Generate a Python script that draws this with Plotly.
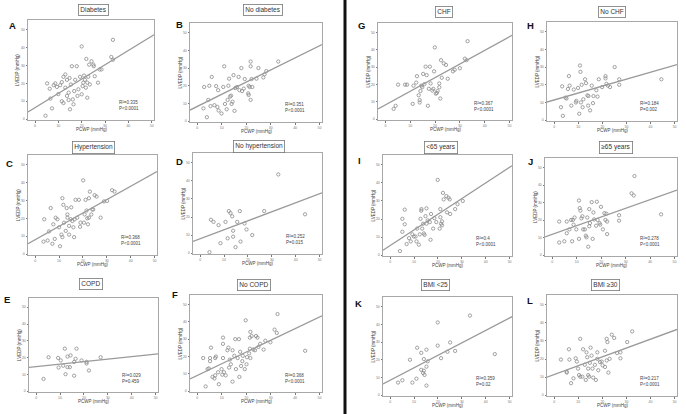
import plotly.graph_objects as go

W, H = 686, 414

LETTERS = ["A", "B", "C", "D", "E", "F", "G", "H", "I", "J", "K", "L"]
TITLES = ["Diabetes", "No diabetes", "Hypertension", "No hypertension", "COPD", "No COPD",
          "CHF", "No CHF", "&lt;65 years", "≥65 years", "BMI &lt;25", "BMI ≥30"]
R2_LABELS = ["0.335", "0.351", "0.368", "0.252", "0.029", "0.368",
             "0.367", "0.184", "0.4", "0.278", "0.359", "0.217"]
P_LABELS = ["P&lt;0.0001", "P&lt;0.0001", "P&lt;0.0001", "P=0.015", "P=0.459", "P&lt;0.0001",
            "P&lt;0.0001", "P=0.002", "P&lt;0.0001", "P&lt;0.0001", "P=0.02", "P&lt;0.0001"]
SLOPES = [0.80, 0.687, 0.748, 0.50, 0.149, 0.674, 0.788, 0.393, 0.868, 0.496, 0.705, 0.49]
INTERCEPTS = [6.4, 8.3, 8.1, 7.95, 14.66, 9.1, 8.2, 11.4, 5.3, 11.9, 8.4, 11.4]
TICKS = [0, 10, 20, 30, 40, 50]
X_TITLE = "PCWP (mmHg)"
Y_TITLE = "LVEDP (mmHg)"

A_PTS = [(4.5,1.9),(5.2,20),(6.3,17),(6.6,11.5),(7.3,6),(8.0,19),(8.7,20),(9.4,18),(10.0,14),(10.8,19),
         (11.5,10),(11.5,20.7),(12.2,23.7),(12.2,9),(13.0,25),(13.0,17.6),(13.7,22),(13.7,13),(14.4,14.8),
         (14.4,10.7),(14.8,23),(15.0,5.5),(15.4,19.4),(15.8,29.6),(16.2,11),(16.5,8.3),(16.8,15.7),(17.2,22),
         (17.9,29.6),(18.2,13),(18.6,16.7),(19.3,23.7),(20.0,40.7),(20.0,13.9),(20.4,18.5),(20.7,20.4),
         (21.0,24.4),(21.4,22),(21.8,17.6),(22.0,33.7),(22.4,12),(22.4,20.4),(22.8,23.7),(23.2,30.5),
         (23.5,19.4),(24.2,32.4),(25.0,30.5),(25.2,29.6),(25.6,24),(27.0,20.4),(27.7,27.8),(28.5,27.8),
         (32.7,34.8),(33.4,33.3),(33.4,44.4)]
B_PTS = [(2.5,7.2),(2.8,19.3),(3.9,2.2),(4.5,12),(4.9,20),(5.4,8.5),(5.9,25),(7.0,9),(7.7,19.8),(8.2,8),
         (8.5,17.5),(8.7,6),(9.9,4.3),(10.6,19.3),(11.0,31),(11.3,9.7),(12.0,6.7),(12.4,12),(12.7,20),
         (13.0,24),(13.4,13.9),(13.8,14.4),(14.0,9.7),(14.4,11),(14.8,26),(15.2,5.8),(15.5,18.7),(16.2,19.3),
         (16.9,25),(17.2,17.5),(18.0,30),(18.3,17),(19.0,18.4),(19.4,23.8),(20.8,15.7),(21.0,14.8),(21.0,20),
         (21.4,19.3),(21.8,33.7),(21.8,31),(21.8,12),(22.2,23.8),(22.5,19.3),(24.2,24),(25.0,30),(27.0,24.7),
         (27.5,26.5),(28.2,28.3),(33.1,33.7)]
C_PTS = [(3.5,7),(3.8,19.5),(5.2,7.6),(5.8,12.7),(6.5,25.8),(7.2,5.8),(7.6,16.7),(8.2,8.5),(8.6,20.4),
         (9.3,19.5),(10.0,15),(10.4,4.4),(11.0,10.9),(11.4,31.3),(11.4,9.5),(11.8,27.6),(12.1,17.6),(12.8,13),
         (13.2,25.8),(13.5,22.2),(13.5,20.4),(14.2,15.8),(14.2,10.9),(14.9,19.5),(15.1,26.2),(15.6,18.5),
         (16.0,15),(16.3,9.5),(16.5,19.5),(16.9,30.4),(17.6,20.4),(18.3,30.4),(18.8,15.3),(19.0,17.6),
         (20.1,41.3),(20.4,17.6),(20.7,22.2),(21.1,30.4),(21.5,24.4),(21.8,20),(22.1,16.7),(22.5,31.3),
         (22.5,20.4),(22.9,35),(23.5,22.2),(23.9,25),(24.3,25),(24.9,33),(25.7,32.2),(27.4,20.4),(28.8,29.5),
         (30.1,29.8),(32.2,35.8),(33.2,35)]
D_PTS = [(3.9,0.5),(4.5,18.5),(5.6,17.3),(7.7,15.5),(8.5,5.5),(10.6,17.3),(11.5,8.2),(12.0,23.3),(12.7,22.2),
         (13.4,20.4),(13.8,12.4),(13.8,9.1),(14.8,3.3),(15.5,17.3),(16.6,23.3),(16.9,6.4),(18.6,16.4),
         (19.4,13.1),(21.8,10),(26.8,23.3),(32.7,43.6),(43.9,21.5)]
E_PTS = [(3.1,7.3),(5.2,20.2),(9.2,19.8),(9.4,14.1),(10.3,18.3),(11.3,15.2),(12.0,25.3),(12.3,10.1),
         (13.1,20.6),(13.1,14.3),(14.1,14.3),(14.4,21.3),(15.9,17.4),(15.9,9.2),(16.5,19.3),(16.9,25.3),
         (19.0,18.3),(21.1,16.5),(21.1,17.4),(22.1,12.3),(27.0,20.2)]
F_PTS = [(2.4,19.1),(3.4,2.7),(4.2,12.7),(4.7,13.1),(5.2,19.1),(5.2,17.3),(5.6,25.1),(6.2,8.2),(7.0,7.3),
         (7.3,9.1),(7.3,19.1),(7.6,20),(8.5,10.9),(8.8,4),(9.9,12.7),(10.2,9.5),(10.5,19.1),(10.5,30.9),
         (10.5,27.3),(10.9,10.9),(11.6,9.1),(12.3,23.6),(12.7,25.1),(13.0,13.6),(13.3,18.2),(13.7,15.5),
         (14.4,23.6),(14.4,5.5),(15.1,20.4),(15.5,30),(15.8,12.7),(16.5,19.1),(17.0,30),(17.2,8.2),(17.5,22.7),
         (17.9,14.5),(18.4,17.3),(18.6,20.4),(19.4,12.7),(19.8,40.9),(20.1,15.5),(20.3,19.6),(21.2,21.8),
         (21.5,30.9),(21.5,24.5),(21.7,34.2),(21.7,19.1),(22.2,31.8),(22.9,24),(23.6,23.6),(24.0,31.8),
         (24.6,30.9),(25.0,25.5),(25.7,27.3),(27.1,24),(27.8,29.1),(29.9,28.2),(31.6,35.5),(32.5,33.6),
         (32.8,44.5),(44.1,23.3)]
G_PTS = [(3.3,5.9),(4.1,7.7),(5.1,19.9),(7.9,19.9),(8.7,19.9),(11.0,8.8),(11.3,19.3),(12.4,21.1),(12.7,24.8),
         (13.4,13.8),(13.8,11),(13.8,9.6),(14.1,16.2),(14.4,19.3),(14.8,18.4),(15.2,26.1),(15.7,20.2),
         (16.2,30.3),(16.6,25.4),(17.1,7.7),(17.5,17.5),(17.9,30.3),(18.2,20.6),(18.9,16.5),(19.3,17.5),
         (19.6,27.6),(19.9,41.4),(20.3,14.7),(20.7,15.1),(21.0,16.2),(21.7,20.6),(21.7,18.4),(22.1,11.9),
         (22.4,34),(22.7,23.9),(23.5,32.2),(24.4,31.3),(25.1,23.3),(27.2,27.6),(27.9,28.5),(30.0,29.4),
         (32.0,34.9),(32.7,34),(33.1,45)]
H_PTS = [(2.8,7.3),(3.6,2.4),(3.3,19.1),(4.7,12.7),(5.1,12.2),(5.7,17.6),(6.1,24.9),(6.4,19.5),(7.1,8.2),
         (8.1,17.3),(9.0,10),(9.2,10.9),(9.9,18.2),(10.4,3.6),(10.7,30.9),(10.9,27.3),(11.1,10),(11.4,20),
         (11.8,7.3),(12.1,11.8),(12.8,23.1),(13.2,20.9),(13.8,14),(14.1,8.2),(14.2,13.6),(14.9,5.5),(15.6,19.5),
         (16.1,9.6),(16.3,13.6),(17.5,16.9),(18.0,13.3),(18.5,23.1),(19.9,18.7),(21.3,24.9),(21.3,23.6),
         (21.7,20.5),(22.3,19.5),(23.2,18.7),(25.1,30),(27.0,23.1),(27.0,20),(44.5,23.1)]
I_PTS = [(4.1,2.2),(5.1,12.9),(5.1,20.1),(6.1,25.2),(6.1,17.1),(6.9,6.1),(7.9,9.4),(8.6,7.6),(9.3,11.5),
         (9.9,10.3),(10.6,10.3),(11.0,7.6),(11.3,14.7),(12.0,5.8),(12.4,11.5),(12.7,20.1),(13.0,24.6),
         (13.1,25.5),(13.4,14.7),(13.8,17.4),(14.1,12),(14.4,11.2),(14.8,21.6),(15.2,25.9),(15.2,17.4),
         (15.7,19.2),(16.6,18.3),(16.9,8.5),(17.1,22.8),(18.0,14.7),(18.5,20.5),(19.3,18.3),(19.9,41.7),
         (20.7,14.7),(21.0,25.5),(21.0,21),(21.3,17.4),(21.7,16.5),(21.7,18.7),(22.1,34.5),(22.4,30.9),
         (23.5,32.7),(23.8,23.7),(24.4,31.8),(24.9,30.9),(25.1,22.8),(27.2,25.5),(28.2,28.2),(30.4,30)]
J_PTS = [(2.8,7.2),(2.8,19.2),(4.9,7.9),(5.9,12.5),(5.9,19.2),(7.0,14.7),(7.7,20.1),(8.1,7.9),(8.4,20.1),
         (8.7,17.4),(9.1,21.5),(9.8,14.7),(10.9,9.3),(10.9,31.2),(11.2,26.9),(11.5,25.4),(11.9,21),(12.3,22.2),
         (12.6,14.7),(13.3,14.7),(13.7,11.1),(14.0,10.2),(14.3,21.5),(14.7,4.8),(15.1,16.5),(15.1,26.3),
         (15.4,18.3),(16.1,30.3),(16.5,9.3),(16.8,24.4),(17.1,20.4),(17.9,16.8),(18.2,30.5),(18.5,20.1),
         (19.3,18.3),(19.6,17.4),(19.9,27.6),(20.7,14.7),(21.3,24),(21.7,20.1),(22.1,23.7),(22.4,12),
         (22.4,19.2),(27.3,19.7),(27.3,22.8),(32.4,35.3),(33.3,34.1),(33.6,45.2),(44.5,23.3)]
K_PTS = [(3.3,7.1),(5.1,8.4),(8.3,20),(9.3,7.1),(11.0,9.3),(11.3,26.8),(13.0,23.9),(13.0,14.3),(13.8,12.5),
         (14.1,20.4),(14.1,13.8),(14.4,11.4),(15.2,25.7),(15.2,16.1),(15.2,5.4),(15.7,19.1),(19.9,28),
         (19.9,41.1),(21.3,20.9),(24.0,24.5),(25.1,29.8),(27.2,25),(33.4,45),(43.8,23.2)]
L_PTS = [(2.8,19.7),(5.2,12.9),(5.2,12.5),(6.1,25.4),(6.3,19.7),(7.0,6.6),(8.0,9.3),(8.9,20.4),(9.4,18.6),
         (9.9,14.7),(10.3,11.1),(10.8,31.2),(10.8,10.2),(11.7,10.2),(12.0,25.4),(12.7,16.8),(13.1,8.4),
         (13.4,23.7),(13.7,21),(14.1,11.1),(14.1,14.7),(14.5,10.2),(14.8,17.9),(15.1,26.3),(15.5,21.9),
         (15.9,14.7),(16.2,9.7),(16.9,16.8),(17.3,8.4),(17.9,20.1),(17.9,23.7),(18.3,13.8),(19.0,18.3),
         (19.7,18.6),(20.1,16.5),(21.1,15.6),(21.1,24.6),(21.8,31.2),(21.8,19.2),(22.1,29.4),(22.5,12.5),
         (23.0,20.1),(23.9,33.5),(24.9,31.7),(26.1,23.3),(27.5,23.7),(27.5,20.4),(30.3,29.4),(32.4,35.3)]

ALL_PTS = [A_PTS, B_PTS, C_PTS, D_PTS, E_PTS, F_PTS, G_PTS, H_PTS, I_PTS, J_PTS, K_PTS, L_PTS]

# layout (pixel boxes: x0, x1, y0, y1) -- positions only
BOXES = [(28, 154, 20, 120), (190, 322, 23, 122),
         (28, 157, 155, 255), (193, 322, 153, 254),
         (29, 158, 298, 392), (190, 322, 295, 392),
         (378, 512, 23, 120), (547, 677, 22, 121),
         (383, 512, 155, 256), (545, 677, 158, 256),
         (383, 512, 297, 396), (547, 677, 295, 396)]
LETTER_POS = [(12, 25), (179, 24), (9, 163), (180, 162), (7, 299), (175, 294),
              (361, 25), (530, 25), (359, 161), (530, 162), (358, 303), (530, 300)]
TITLE_POS = [(94, 10), (263, 10), (94, 147), (259, 146), (91, 284), (254, 285),
             (444, 12), (612, 12), (441, 147), (616, 147), (435, 285), (605, 285)]

XR = [-3, 51]
YR = [-0.5, 55.5]

def px(x):
    return x / W

def py(y):
    return 1 - y / H

fig = go.Figure()
layout = dict(width=W, height=H, margin=dict(l=0, r=0, t=0, b=0),
              paper_bgcolor="white", plot_bgcolor="white", showlegend=False,
              font=dict(family="Arial, Liberation Sans, sans-serif", color="#333"))
annotations = []
shapes = []
GRAY = "#9a9a9a"

for i, pts in enumerate(ALL_PTS):
    n = i + 1
    xa = "x" if n == 1 else f"x{n}"
    ya = "y" if n == 1 else f"y{n}"
    x0, x1, y0, y1 = BOXES[i]
    axcommon = dict(showgrid=False, zeroline=False, showline=True, mirror=True,
                    linecolor="#a8a8a8", linewidth=1, ticks="outside", ticklen=1.5,
                    tickcolor="#777", tickwidth=0.8, tickvals=TICKS,
                    tickfont=dict(size=3.5, color="#777"))
    layout["xaxis" if n == 1 else f"xaxis{n}"] = dict(
        axcommon, domain=[px(x0), px(x1)], range=XR, anchor=ya)
    layout["yaxis" if n == 1 else f"yaxis{n}"] = dict(
        axcommon, domain=[py(y1), py(y0)], range=YR, anchor=xa)

    xs = [p[0] for p in pts]
    ys = [p[1] for p in pts]
    fig.add_trace(go.Scatter(x=xs, y=ys, mode="markers", xaxis=xa, yaxis=ya,
                             marker=dict(symbol="circle-open", size=3.3, color="#8a8a8a",
                                         line=dict(width=0.8, color="#8a8a8a")),
                             hoverinfo="skip"))
    lx = [XR[0], XR[1]]
    ly = [INTERCEPTS[i] + SLOPES[i] * v for v in lx]
    fig.add_trace(go.Scatter(x=lx, y=ly, mode="lines", xaxis=xa, yaxis=ya,
                             line=dict(color=GRAY, width=1.3), hoverinfo="skip", cliponaxis=True))

    # axis titles
    annotations.append(dict(xref="paper", yref="paper", x=px((x0 + x1) / 2), y=py(y1 + 9),
                            text=X_TITLE, showarrow=False, xanchor="center", yanchor="middle",
                            font=dict(size=4.5, color="#444")))
    annotations.append(dict(xref="paper", yref="paper", x=px(x0 - 10), y=py((y0 + y1) / 2),
                            text=Y_TITLE, showarrow=False, xanchor="center", yanchor="middle",
                            textangle=-90, font=dict(size=4.5, color="#444")))

    annotations.append(dict(xref=xa, yref=ya, x=35, y=7.5, xanchor="left", yanchor="middle",
                            text=f"R²={R2_LABELS[i]}<br>{P_LABELS[i]}", showarrow=False,
                            align="left", font=dict(size=4.5, color="#444")))
    lx0, ly0 = LETTER_POS[i]
    annotations.append(dict(xref="paper", yref="paper", x=px(lx0), y=py(ly0), text=f"<b>{LETTERS[i]}</b>",
                            showarrow=False, xanchor="center", yanchor="middle",
                            font=dict(size=9.5, color="#111")))
    tx, ty = TITLE_POS[i]
    annotations.append(dict(xref="paper", yref="paper", x=px(tx), y=py(ty), text=TITLES[i],
                            showarrow=False, xanchor="center", yanchor="middle",
                            bordercolor="#777", borderwidth=0.8, borderpad=1.5, bgcolor="white",
                            font=dict(size=6.5, color="#333")))

shapes.append(dict(type="line", xref="paper", yref="paper", x0=px(345), x1=px(345), y0=0, y1=1,
                   line=dict(color="#111", width=3)))
layout["annotations"] = annotations
layout["shapes"] = shapes
fig.update_layout(**layout)
fig.write_html("out.html", config={"displayModeBar": False},
               post_script="document.body.style.margin='0';document.body.style.padding='0';")
